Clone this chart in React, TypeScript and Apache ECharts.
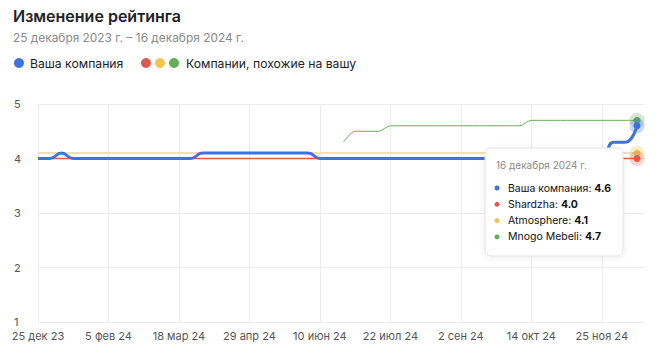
import React, { useEffect, useRef } from "react";
import * as echarts from "echarts";

const xTickLabels = ["25 дек 23", "5 фев 24", "18 мар 24", "29 апр 24", "10 июн 24", "22 июл 24", "2 сен 24", "14 окт 24", "25 ноя 24"];
const yTicks = [1, 2, 3, 4, 5];

// weekly values, 25 Dec 2023 ... 16 Dec 2024 (52 weeks)
const yourCompany = [
  4.0, 4.0, 4.1, 4.0, 4.0, 4.0, 4.0, 4.0, 4.0, 4.0,
  4.0, 4.0, 4.0, 4.0, 4.1, 4.1, 4.1, 4.1, 4.1, 4.1,
  4.1, 4.1, 4.1, 4.1, 4.0, 4.0, 4.0, 4.0, 4.0, 4.0,
  4.0, 4.0, 4.0, 4.0, 4.0, 4.0, 4.0, 4.0, 4.0, 4.0,
  4.0, 4.0, 4.0, 4.0, 4.0, 4.0, 4.0, 4.0, 4.0, 4.3,
  4.3, 4.6,
];
const shardzha = [
  4.0, 4.0, 4.0, 4.0, 4.0, 4.0, 4.0, 4.0, 4.0, 4.0,
  4.0, 4.0, 4.0, 4.0, 4.0, 4.0, 4.0, 4.0, 4.0, 4.0,
  4.0, 4.0, 4.0, 4.0, 4.0, 4.0, 4.0, 4.0, 4.0, 4.0,
  4.0, 4.0, 4.0, 4.0, 4.0, 4.0, 4.0, 4.0, 4.0, 4.0,
  4.0, 4.0, 4.0, 4.0, 4.0, 4.0, 4.0, 4.0, 4.0, 4.0,
  4.0, 4.0,
];
const atmosphere = [
  4.1, 4.1, 4.1, 4.1, 4.1, 4.1, 4.1, 4.1, 4.1, 4.1,
  4.1, 4.1, 4.1, 4.1, 4.1, 4.1, 4.1, 4.1, 4.1, 4.1,
  4.1, 4.1, 4.1, 4.1, 4.1, 4.1, 4.1, 4.1, 4.1, 4.1,
  4.1, 4.1, 4.1, 4.1, 4.1, 4.1, 4.1, 4.1, 4.1, 4.1,
  4.1, 4.1, 4.1, 4.1, 4.1, 4.1, 4.1, 4.1, 4.1, 4.1,
  4.1, 4.1,
];
const mnogoMebeli: (number | null)[] = [
  null, null, null, null, null, null, null, null, null, null,
  null, null, null, null, null, null, null, null, null, null,
  null, null, null, null, null, null, 4.3, 4.5, 4.5, 4.5,
  4.6, 4.6, 4.6, 4.6, 4.6, 4.6, 4.6, 4.6, 4.6, 4.6,
  4.6, 4.6, 4.7, 4.7, 4.7, 4.7, 4.7, 4.7, 4.7, 4.7,
  4.7, 4.7,
];

const seriesNames = ["Ваша компания", "Shardzha", "Atmosphere", "Mnogo Mebeli"];
const colors = ["#3f71e0", "#dd5a4e", "#f0c64e", "#64ad5a"];
const halos = ["rgba(63,113,224,0.28)", "rgba(221,90,78,0.25)", "rgba(240,198,78,0.3)", "rgba(100,173,90,0.28)"];

const FONT = "Inter, 'Noto Sans', sans-serif";

function toData(vals: (number | null)[], idx: number) {
  const last = vals.length - 1;
  return vals.map((v, i) =>
    i === last
      ? {
          value: [i, v],
          symbol: "circle",
          symbolSize: 7,
          itemStyle: { color: colors[idx], borderColor: halos[idx], borderWidth: 8 },
        }
      : { value: [i, v], symbol: "none" }
  );
}

export default function App() {
  const ref = useRef<HTMLDivElement>(null);
  useEffect(() => {
    document.body.style.margin = "0";
    const chart = echarts.init(ref.current!, null, { renderer: "svg" });
    const allVals = [yourCompany, shardzha, atmosphere, mnogoMebeli];
    const lastVals = allVals.map((a) => (a[a.length - 1] as number).toFixed(1));
    const tipX = 485;
    const tipY = 148;
    const rows = seriesNames.map((n, i) => [
      {
        type: "circle",
        shape: { cx: tipX + 12, cy: tipY + 40 + i * 16.3, r: 2.5 },
        style: { fill: colors[i] },
        z: 101,
      },
      {
        type: "text",
        x: tipX + 23,
        y: tipY + 40 + i * 16.3,
        style: {
          text: `{n|${n}: }{b|${lastVals[i]}}`,
          verticalAlign: "middle",
          rich: {
            n: { fontFamily: FONT, fontSize: 10.5, fill: "#111" },
            b: { fontFamily: FONT, fontSize: 10.5, fontWeight: "bold", fill: "#111" },
          },
        },
        z: 101,
      },
    ]).flat();

    chart.setOption({
      animation: false,
      grid: { left: 38, right: 16, top: 104, bottom: 39 },
      xAxis: {
        type: "value",
        min: 0,
        max: 51.68,
        interval: 6,
        axisLine: { show: false },
        axisTick: { show: false },
        splitLine: { show: true, showMaxLine: false, lineStyle: { color: "#ececec", width: 1 } },
        axisLabel: {
          showMaxLabel: false,
          margin: 8,
          color: "#555",
          fontSize: 11,
          fontFamily: FONT,
          formatter: (v: number) => (Number.isInteger(v) && v % 6 === 0 ? xTickLabels[v / 6] ?? "" : ""),
        },
      },
      yAxis: {
        type: "value",
        min: yTicks[0],
        max: yTicks[yTicks.length - 1],
        interval: 1,
        axisLine: { show: false },
        axisTick: { show: false },
        splitLine: { lineStyle: { color: "#ececec", width: 1 } },
        axisLabel: { color: "#555", fontSize: 11, fontFamily: FONT, margin: 24, align: "left" },
      },
      series: [
        {
          name: seriesNames[2],
          type: "line",
          data: toData(atmosphere, 2),
          lineStyle: { color: "#f3e0ab", width: 2 },
          itemStyle: { color: colors[2] },
          z: 2,
        },
        {
          name: seriesNames[1],
          type: "line",
          data: toData(shardzha, 1),
          lineStyle: { color: colors[1], width: 1.5 },
          itemStyle: { color: colors[1] },
          z: 3,
        },
        {
          name: seriesNames[0],
          type: "line",
          smooth: 0.5,
          data: toData(yourCompany, 0),
          lineStyle: { color: colors[0], width: 3 },
          itemStyle: { color: colors[0] },
          z: 5,
        },
        {
          name: seriesNames[3],
          type: "line",
          smooth: 0.3,
          connectNulls: false,
          data: toData(mnogoMebeli, 3),
          lineStyle: { color: colors[3], width: 1 },
          itemStyle: { color: colors[3] },
          z: 4,
        },
      ],
      graphic: [
        {
          type: "text",
          left: 13,
          top: 8,
          style: { text: "Изменение рейтинга", fontFamily: FONT, fontSize: 16, fontWeight: 600, fill: "#222" },
        },
        {
          type: "text",
          left: 13,
          top: 31,
          style: { text: "25 декабря 2023 г. – 16 декабря 2024 г.", fontFamily: FONT, fontSize: 11.9, fill: "#8a8a8a" },
        },
        { type: "circle", shape: { cx: 19, cy: 63, r: 5 }, style: { fill: colors[0] } },
        {
          type: "text",
          x: 30,
          y: 63,
          style: { text: "Ваша компания", fontFamily: FONT, fontSize: 12.2, fill: "#222", verticalAlign: "middle" },
        },
        { type: "circle", shape: { cx: 146, cy: 63, r: 5 }, style: { fill: colors[1] } },
        { type: "circle", shape: { cx: 160, cy: 63, r: 5 }, style: { fill: colors[2] } },
        { type: "circle", shape: { cx: 174, cy: 63, r: 5 }, style: { fill: colors[3] } },
        {
          type: "text",
          x: 186,
          y: 63,
          style: { text: "Компании, похожие на вашу", fontFamily: FONT, fontSize: 12.2, fill: "#222", verticalAlign: "middle" },
        },
        {
          type: "rect",
          shape: { x: tipX, y: tipY, width: 138, height: 108, r: 6 },
          style: {
            fill: "#fff",
            stroke: "#e4e4e4",
            lineWidth: 1,
            shadowBlur: 6,
            shadowColor: "rgba(0,0,0,0.08)",
            shadowOffsetY: 1,
          },
          z: 100,
        },
        {
          type: "text",
          x: tipX + 11,
          y: tipY + 17,
          style: { text: "16 декабря 2024 г.", fontFamily: FONT, fontSize: 10, fill: "#8a8a8a", verticalAlign: "middle" },
          z: 101,
        },
        ...rows,
      ],
    });
    return () => chart.dispose();
  }, []);
  return <div ref={ref} style={{ width: 661, height: 361 }} />;
}
